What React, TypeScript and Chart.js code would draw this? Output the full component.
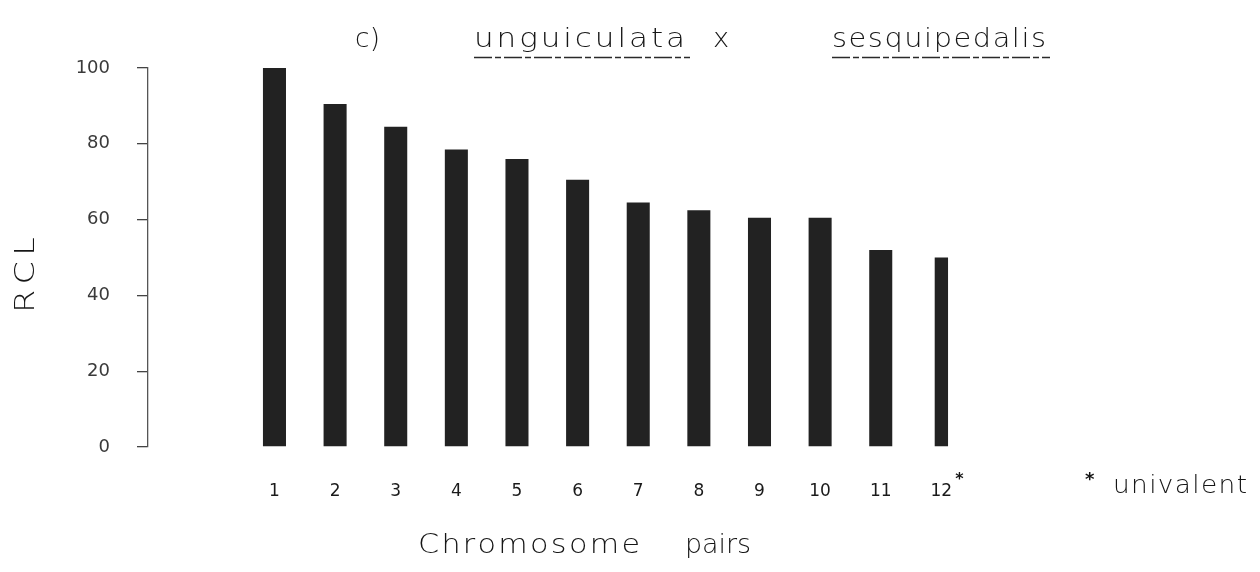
import React, { useEffect, useRef } from 'react';
import { Chart, registerables } from 'chart.js';

Chart.register(...registerables);

// ---- data ----
const pairNumbers = [1, 2, 3, 4, 5, 6, 7, 8, 9, 10, 11, 12];
const pairLabels = ['1', '2', '3', '4', '5', '6', '7', '8', '9', '10', '11', '12'];
const rclValues = [100, 90.5, 84.5, 78.5, 76, 70.5, 64.5, 62.5, 60.5, 60.5, 52, 50];
const univalentPairs = [12];
const yTickValues = [0, 20, 40, 60, 80, 100];

// ---- text ----
const titlePrefix = 'c)';
const titleParent1 = 'unguiculata';
const titleCross = 'x';
const titleParent2 = 'sesquipedalis';
const xAxisWords = ['Chromosome', 'pairs'];
const yAxisTitle = 'RCL';
const footnoteMark = '*';
const footnoteText = 'univalent';

const FONT = '"DejaVu Sans", "Noto Sans", sans-serif';
const INK = '#161616';

// draw text between x0 and x1: half of the extra room by widening glyphs, half by spacing
function drawFit(ctx: CanvasRenderingContext2D, text: string, x0: number, x1: number, y: number) {
  const chars = Array.from(text);
  const natural = ctx.measureText(text).width;
  const target = x1 - x0;
  const sx = Math.max(0.85, 1 + (target / natural - 1) * 0.5);
  const widths = chars.map((c) => ctx.measureText(c).width * sx);
  const total = widths.reduce((a, b) => a + b, 0);
  const gap = chars.length > 1 ? (target - total) / (chars.length - 1) : 0;
  let x = x0;
  chars.forEach((c, i) => {
    ctx.save();
    ctx.translate(x, y);
    ctx.scale(sx, 1);
    ctx.fillText(c, 0, 0);
    ctx.restore();
    x += widths[i] + gap;
  });
}

const handTextPlugin = {
  id: 'handText',
  afterDraw(chart: any) {
    const ctx: CanvasRenderingContext2D = chart.ctx;
    ctx.save();
    ctx.fillStyle = INK;
    ctx.strokeStyle = '#2a2a2a';
    ctx.textAlign = 'left';
    ctx.textBaseline = 'alphabetic';

    // title
    ctx.font = `300 26px ${FONT}`;
    drawFit(ctx, titlePrefix, 355, 380, 47);
    drawFit(ctx, titleParent1, 474, 685, 47);
    drawFit(ctx, titleCross, 713, 730, 47);
    drawFit(ctx, titleParent2, 832, 1046, 47);
    ctx.lineWidth = 1.6;
    ctx.setLineDash([18, 3, 6, 3]);
    ctx.beginPath();
    ctx.moveTo(474, 57.5);
    ctx.lineTo(690, 57.5);
    ctx.moveTo(832, 57.5);
    ctx.lineTo(1050, 57.5);
    ctx.stroke();
    ctx.setLineDash([]);

    // x axis title
    ctx.font = `300 27px ${FONT}`;
    drawFit(ctx, xAxisWords[0], 418, 640, 553);
    drawFit(ctx, xAxisWords[1], 685, 751, 553);

    // y axis title (rotated)
    ctx.save();
    ctx.translate(24, 275);
    ctx.rotate(-Math.PI / 2);
    ctx.font = `300 27px ${FONT}`;
    drawFit(ctx, yAxisTitle, -38, 38, 10);
    ctx.restore();

    // asterisk on univalent pairs
    const xs = chart.scales.x;
    ctx.font = `bold 16px ${FONT}`;
    univalentPairs.forEach((n) => {
      const px = xs.getPixelForValue(n);
      ctx.fillText(footnoteMark, px + 14, 484);
    });

    // footnote
    ctx.font = `bold 18px ${FONT}`;
    ctx.fillText(footnoteMark, 1085, 485);
    ctx.font = `300 24px ${FONT}`;
    drawFit(ctx, footnoteText, 1113, 1247, 493);

    ctx.restore();
  },
};

export default function App() {
  const canvasRef = useRef<HTMLCanvasElement | null>(null);

  useEffect(() => {
    const canvas = canvasRef.current;
    if (!canvas) return;

    const bivalentData = pairNumbers
      .filter((n) => !univalentPairs.includes(n))
      .map((n) => ({ x: n, y: rclValues[pairNumbers.indexOf(n)] }));
    const univalentData = univalentPairs.map((n) => ({ x: n, y: rclValues[pairNumbers.indexOf(n)] }));

    const chart = new Chart(canvas, {
      type: 'bar',
      data: {
        datasets: [
          {
            label: 'bivalent',
            data: bivalentData,
            backgroundColor: '#222222',
            borderWidth: 0,
            grouped: false,
            barPercentage: 0.38,
            categoryPercentage: 1,
          },
          {
            label: 'univalent',
            data: univalentData,
            backgroundColor: '#222222',
            borderWidth: 0,
            grouped: false,
            barPercentage: 0.22,
            categoryPercentage: 1,
          },
        ],
      } as any,
      options: {
        animation: false,
        responsive: false,
        maintainAspectRatio: false,
        layout: { padding: { top: 68, right: 258, bottom: 0, left: 0 } },
        plugins: {
          legend: { display: false },
          tooltip: { enabled: false },
          title: { display: false },
        },
        scales: {
          x: {
            type: 'linear',
            min: -1.086,
            max: 13,
            offset: false,
            afterBuildTicks: (s: any) => {
              s.ticks = pairNumbers.map((v) => ({ value: v }));
            },
            afterFit: (s: any) => {
              s.height = 125;
            },
            grid: { display: false, drawTicks: false, tickLength: 0 },
            border: { display: false },
            ticks: {
              autoSkip: false,
              maxRotation: 0,
              padding: 34,
              color: '#1a1a1a',
              font: { family: FONT, size: 17 },
              callback: (v: any) => {
                const i = pairNumbers.indexOf(Number(v));
                return i >= 0 ? pairLabels[i] : '';
              },
            },
          },
          y: {
            min: 0,
            max: 100,
            afterBuildTicks: (s: any) => {
              s.ticks = yTickValues.map((v) => ({ value: v }));
            },
            afterFit: (s: any) => {
              s.width = 148;
            },
            grid: {
              drawOnChartArea: false,
              drawTicks: true,
              tickLength: 11,
              color: '#444',
              lineWidth: 1.3,
            },
            border: { display: true, color: '#555', width: 1.3 },
            ticks: {
              padding: 27,
              color: '#3a3a3a',
              font: { family: FONT, size: 18 },
            },
          },
        },
      } as any,
      plugins: [handTextPlugin],
    });

    return () => {
      chart.destroy();
    };
  }, []);

  return (
    <div style={{ position: 'absolute', left: 0, top: 0, width: 1260, height: 572, background: '#ffffff' }}>
      <canvas ref={canvasRef} width={1260} height={572} style={{ display: 'block' }} />
    </div>
  );
}
